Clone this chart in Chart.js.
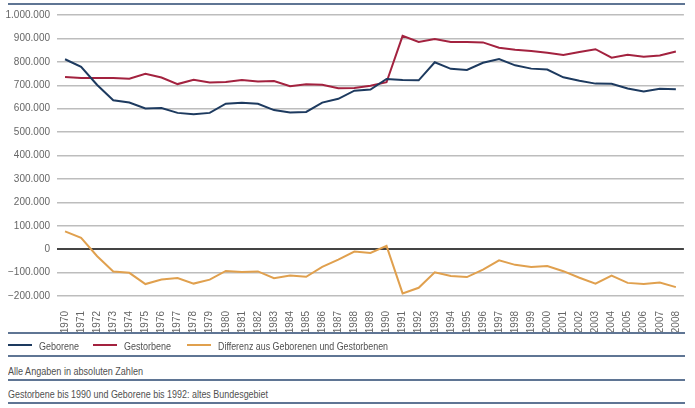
<!DOCTYPE html>
<html>
<head>
<meta charset="utf-8">
<script src="https://cdn.jsdelivr.net/npm/chart.js@4"></script>
<style>
  body { margin: 0; background: #fff; }
  #wrap { position: relative; width: 695px; height: 408px; overflow: hidden; }
  #grafico { position: absolute; left: 0; top: 0; }
  .linea { position: absolute; left: 8px; width: 677px; height: 2px; background: #5f7594; }
  .texto { position: absolute; font-family: "Liberation Sans", sans-serif; font-size: 11.5px; line-height: 14px; color: #505050; white-space: nowrap; transform-origin: 0 0; }
  .muestra { position: absolute; width: 24px; height: 2px; }
</style>
</head>
<body>
<div id="wrap">
  <div class="linea" style="top:3px"></div>
  <canvas id="grafico" width="695" height="333"></canvas>
  <div class="linea" style="top:332px"></div>
  <div class="muestra" style="left:8px; top:344px; background:#1d3a5f"></div>
  <div class="texto" data-w="40" style="left:39px; top:339px">Geborene</div>
  <div class="muestra" style="left:93px; top:344px; background:#a3223f"></div>
  <div class="texto" data-w="47" style="left:124px; top:339px">Gestorbene</div>
  <div class="muestra" style="left:187px; top:344px; background:#e0a04e"></div>
  <div class="texto" data-w="170" style="left:218px; top:339px">Differenz aus Geborenen und Gestorbenen</div>
  <div class="linea" style="top:355px"></div>
  <div class="texto" data-w="135" style="left:8px; top:364px">Alle Angaben in absoluten Zahlen</div>
  <div class="linea" style="top:379px"></div>
  <div class="texto" data-w="260" style="left:8px; top:386.5px">Gestorbene bis 1990 und Geborene bis 1992: altes Bundesgebiet</div>
  <div class="linea" style="top:402px"></div>
</div>
<script>
const jahre = ['1970','1971','1972','1973','1974','1975','1976','1977','1978','1979',
  '1980','1981','1982','1983','1984','1985','1986','1987','1988','1989',
  '1990','1991','1992','1993','1994','1995','1996','1997','1998','1999',
  '2000','2001','2002','2003','2004','2005','2006','2007','2008']

const geborene = [811000, 779000, 701000, 636000, 626000, 601000, 603000, 582000, 576000, 582000,
  621000, 625000, 621000, 594000, 584000, 586000, 626000, 642000, 677000, 682000,
  727000, 722000, 721000, 798000, 770000, 765000, 796000, 812000, 785000, 771000,
  767000, 734000, 719000, 707000, 706000, 686000, 673000, 685000, 683000]

const gestorbene = [735000, 731000, 731000, 731000, 728000, 749000, 733000, 705000, 723000, 712000,
  714000, 722000, 716000, 718000, 696000, 704000, 702000, 687000, 688000, 698000,
  713000, 911000, 885000, 897000, 885000, 885000, 883000, 860000, 852000, 846000,
  839000, 829000, 842000, 854000, 818000, 830000, 822000, 827000, 844000]

const differenz = [76000, 48000, -30000, -95000, -101000, -149000, -130000, -123000, -147000, -130000,
  -93000, -98000, -95000, -124000, -112000, -118000, -76000, -45000, -10000, -16000,
  14000, -189000, -165000, -99000, -115000, -119000, -87000, -48000, -67000, -76000,
  -72000, -94000, -122000, -147000, -113000, -144000, -149000, -142000, -162000]

function formatZahl(v) {
  const s = Math.abs(v).toString().replace(/\B(?=(\d{3})+(?!\d))/g, '.')
  return v < 0 ? '\u2212' + s : s
}

// schmale Schrift nachbilden: Texte auf Zielbreite stauchen
document.querySelectorAll('.texto').forEach(el => {
  const w = el.getBoundingClientRect().width
  el.style.transform = `scaleX(${Number(el.dataset.w) / w})`
})

const datasets = [
  { label: 'Geborene', data: geborene, borderColor: '#1d3a5f' },
  { label: 'Gestorbene', data: gestorbene, borderColor: '#a3223f' },
  { label: 'Differenz aus Geborenen und Gestorbenen', data: differenz, borderColor: '#e0a04e' }
].map(d => Object.assign(d, { borderWidth: 2, pointRadius: 0, tension: 0, fill: false }))

const config = {
  type: 'line',
  data: { labels: jahre, datasets },
  options: {
    responsive: false,
    animation: false,
    layout: { padding: { left: 0, right: 10, top: 15, bottom: 0 } },
    plugins: { legend: { display: false }, tooltip: { enabled: false } },
    scales: {
      x: {
        offset: true,
        grid: { display: false },
        border: { display: false },
        ticks: {
          autoSkip: false, maxRotation: 90, minRotation: 90, padding: 7,
          color: '#666', font: { family: 'Liberation Sans', size: 10 }
        },
        afterFit: s => { s.height = 37 }
      },
      y: {
        min: -200000, max: 1000000,
        border: { display: false },
        grid: {
          drawTicks: false,
          color: c => c.tick.value === 0 ? '#444' : '#bdbdbd',
          lineWidth: c => c.tick.value === 0 ? 2 : 1.5
        },
        ticks: {
          stepSize: 100000, padding: 7, color: '#666',
          font: { family: 'Liberation Sans', size: 10 },
          callback: v => formatZahl(v)
        },
        afterFit: s => { s.width = 57 }
      }
    }
  }
}

new Chart(document.querySelector('#grafico'), config)
</script>
</body>
</html>
